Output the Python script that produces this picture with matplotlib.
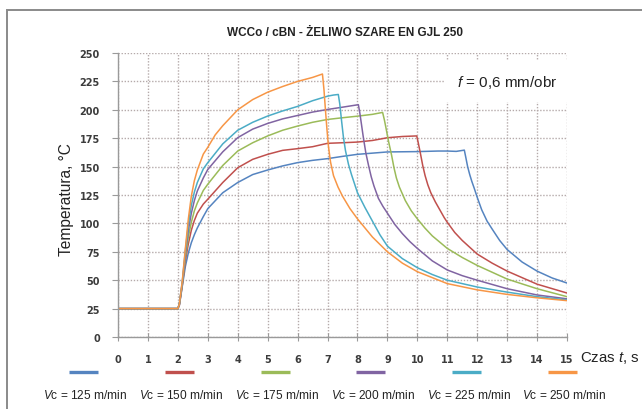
import matplotlib
matplotlib.use("Agg")
import matplotlib.pyplot as plt
from matplotlib.lines import Line2D
from matplotlib.patches import Rectangle

# ---------------- data ----------------
speeds = [125, 150, 175, 200, 225, 250]
colors = ['#5584c0', '#c0504d', '#9bbb59', '#8064a2', '#4bacc6', '#f79646']

t_125 = [0, 2.0, 2.05, 2.15, 2.25, 2.35, 2.45, 2.55, 2.65, 2.85, 3.0, 3.5, 4.0, 4.5, 5.0, 5.5,
         6.0, 6.5, 7.0, 7.5, 8.0, 9.0, 10.0, 10.7, 11.0, 11.3, 11.57, 11.62, 11.68, 11.75, 11.82,
         11.9, 12.0, 12.15, 12.33, 12.5, 12.75, 13.0, 13.5, 14.0, 14.5, 15.0]
T_125 = [25, 25, 28, 45, 62, 74, 83, 90, 96, 106, 113, 127, 136, 143, 147, 150.6,
         153.5, 155.5, 157, 159, 160.8, 162.9, 163.2, 163.7, 163.7, 163.4, 164.5, 158, 150, 143, 137,
         131, 123, 112, 102, 95, 85, 77, 66, 58, 52, 47.5]

t_150 = [0, 2.0, 2.05, 2.15, 2.25, 2.35, 2.45, 2.55, 2.65, 2.85, 3.0, 3.5, 4.0, 4.5, 5.0, 5.5,
         6.0, 6.5, 7.0, 7.5, 8.0, 8.5, 9.0, 9.5, 9.98, 10.03, 10.1, 10.18, 10.26, 10.35, 10.45,
         10.6, 10.75, 10.9, 11.0, 11.25, 11.5, 12.0, 12.5, 13.0, 14.0, 15.0]
T_150 = [25, 25, 28, 46, 67, 82, 94, 102.5, 109, 117, 121.3, 136, 149, 156.4, 160.8, 164.3,
         165.8, 167.5, 170.5, 171, 171.6, 173, 175.4, 176.5, 177, 171, 162, 151, 142, 134, 127,
         119, 112, 105, 101, 92, 85, 73, 65, 58, 46.5, 38.7]

t_175 = [0, 2.0, 2.05, 2.15, 2.25, 2.35, 2.45, 2.55, 2.65, 2.85, 3.0, 3.5, 4.0, 4.5, 5.0, 5.5,
         6.0, 6.5, 7.0, 7.5, 8.0, 8.5, 8.84, 8.9, 8.96, 9.04, 9.14, 9.22, 9.3, 9.4, 9.5, 9.6,
         9.8, 10.0, 10.25, 10.5, 11.0, 11.5, 12.0, 13.0, 14.0, 15.0]
T_175 = [25, 25, 29, 47, 70, 88, 101, 111, 118, 129, 134.5, 151, 163.7, 171, 177, 182,
         185.7, 189, 191.5, 193, 194.4, 196, 197.7, 191, 183, 172, 160, 149, 140, 132, 126, 120,
         111, 104, 96, 89, 78, 70, 63, 51, 42.5, 35.5]

t_200 = [0, 2.0, 2.05, 2.15, 2.25, 2.35, 2.45, 2.55, 2.65, 2.85, 3.0, 3.5, 4.0, 4.5, 5.0, 5.5,
         6.0, 6.5, 7.0, 7.5, 8.03, 8.08, 8.14, 8.2, 8.28, 8.37, 8.46, 8.55, 8.7, 8.85, 9.0, 9.25,
         9.5, 9.75, 10.0, 10.5, 11.0, 11.5, 12.0, 13.0, 14.0, 15.0]
T_200 = [25, 25, 29, 48, 73, 94, 109, 120, 128.5, 140, 147.5, 163, 175.5, 183, 188, 192,
         195, 198, 200.3, 202.3, 204.5, 197, 186, 175, 162, 151, 141, 133, 122, 115, 109, 99,
         91, 84, 78, 67, 59, 54, 50, 42.5, 37, 33.6]

t_225 = [0, 2.0, 2.05, 2.15, 2.25, 2.35, 2.45, 2.55, 2.65, 2.85, 3.0, 3.5, 4.0, 4.5, 5.0, 5.5,
         6.0, 6.5, 7.0, 7.2, 7.36, 7.41, 7.47, 7.53, 7.6, 7.7, 7.8, 7.9, 8.0, 8.25, 8.5, 8.75,
         9.0, 9.5, 10.0, 10.5, 11.0, 12.0, 13.0, 14.0, 15.0]
T_225 = [25, 25, 29, 49, 76, 99, 116, 127.5, 136, 148, 153.5, 170, 182, 189, 194.5, 199,
         203, 208, 212, 213, 213.5, 205, 190, 176, 164, 152, 143, 135, 127, 114, 102, 90,
         80, 69, 61, 55, 50, 44, 39.5, 35.5, 32.7]

t_250 = [0, 2.0, 2.05, 2.15, 2.25, 2.35, 2.45, 2.55, 2.65, 2.85, 3.0, 3.25, 3.5, 4.0, 4.5, 5.0,
         5.5, 6.0, 6.5, 6.83, 6.88, 6.93, 6.98, 7.03, 7.1, 7.2, 7.35, 7.5, 7.75, 8.0, 8.5, 9.0,
         9.5, 10.0, 11.0, 12.0, 13.0, 14.0, 15.0]
T_250 = [25, 25, 29, 50, 78, 104, 124, 137.5, 147, 161, 167, 178, 186, 200, 209, 215.5,
         220.5, 225, 228.5, 231.5, 218, 200, 183, 168, 154, 142, 132, 124, 113, 104, 88, 75,
         65, 57.5, 47, 41.5, 37.5, 34.5, 32]

times = [t_125, t_150, t_175, t_200, t_225, t_250]
temps = [T_125, T_150, T_175, T_200, T_225, T_250]

x_ticks = list(range(0, 16))
y_ticks = list(range(0, 251, 25))

title = 'WCCo / cBN - ŻELIWO SZARE EN GJL 250'
ylabel = 'Temperatura, °C'
xlabel = r'Czas $\mathit{t}$, s'
note = r'$\mathit{f}$ = 0,6 mm/obr'

# ---------------- styling ----------------
plt.rcParams['mathtext.fontset'] = 'custom'
plt.rcParams['mathtext.rm'] = 'Liberation Sans'
plt.rcParams['mathtext.it'] = 'Liberation Sans:italic'
plt.rcParams['font.family'] = ['Liberation Sans', 'DejaVu Sans']

W, H = 642, 410
fig = plt.figure(figsize=(W / 100, H / 100), dpi=100)
fig.patch.set_facecolor('white')

def fx(px):
    return px / W

def fy(py):
    return 1 - py / H

# outer frame (cropped on the right and bottom)
fig.add_artist(Rectangle((fx(7), fy(420)), 1.1, fy(11) - fy(420), transform=fig.transFigure,
                         fill=False, edgecolor='#8a8a8a', linewidth=1.4))

ax = fig.add_axes([fx(118), fy(338), fx(567) - fx(118), fy(54) - fy(338)])

for tt, TT, c in zip(times, temps, colors):
    ax.plot(tt, TT, color=c, linewidth=1.1, solid_joinstyle='round')

ax.set_xlim(0, 15)
ax.set_ylim(0, 250)
ax.set_xticks(x_ticks)
ax.set_yticks(y_ticks)
ax.set_xticklabels([str(v) for v in x_ticks])
ax.set_yticklabels([str(v) for v in y_ticks])

grid_kw = dict(color='#b5aaaa', linestyle=(0, (1, 1.2)), linewidth=1.0)
ax.grid(True, **grid_kw)
ax.set_axisbelow(True)

for s in ['top', 'right']:
    ax.spines[s].set_visible(False)
for s in ['left', 'bottom']:
    ax.spines[s].set_color('#9a9a9a')
    ax.spines[s].set_linewidth(1.0)

for lab in ax.get_xticklabels() + ax.get_yticklabels():
    lab.set_fontfamily('DejaVu Sans')
    lab.set_fontweight('bold')
    lab.set_fontsize(7)
    lab.set_color('#3c3c3c')
ax.tick_params(axis='x', direction='inout', length=6, color='#9a9a9a', pad=9)
ax.tick_params(axis='y', direction='out', length=4, color='#9a9a9a', pad=9)

# title and labels
fig.text(fx(345), fy(33), title, ha='center', va='center', fontsize=8.5, fontweight='bold',
         family=['Liberation Sans', 'DejaVu Sans'], color='#222222')
fig.text(fx(67), fy(200), ylabel, rotation=90, ha='center', va='center', fontsize=11.2,
         color='#222222')
fig.text(fx(580), fy(358), xlabel, ha='left', va='center', fontsize=10.8, color='#222222')

# parameter note with white box
ax.text(13.0, 225, note, ha='center', va='center', fontsize=11, color='#222222',
        bbox=dict(facecolor='white', edgecolor='none', pad=9))

# legend: short line above, label below
for i, (v, c) in enumerate(zip(speeds, colors)):
    cx = 83.5 + i * 95.8
    fig.add_artist(Line2D([fx(cx - 14.5), fx(cx + 14.5)], [fy(373), fy(373)],
                          transform=fig.transFigure, color=c, linewidth=2.4,
                          solid_capstyle='butt'))
    fig.text(fx(cx + 2), fy(395.5), r'$\mathit{V}$c = %d m/min' % v, ha='center', va='center',
             fontsize=8.6, color='#222222')

fig.savefig('out.png', dpi=100, facecolor='white')
